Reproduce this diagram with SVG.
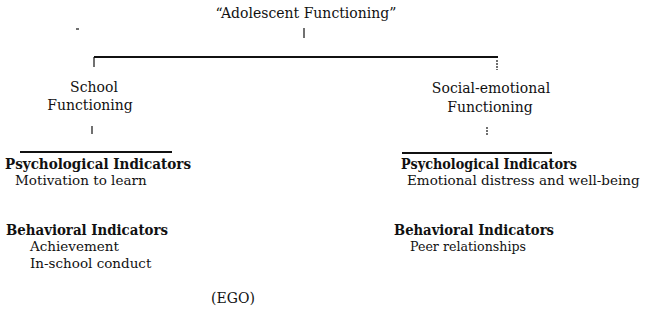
<svg xmlns="http://www.w3.org/2000/svg" width="646" height="328" viewBox="0 0 646 328">
  <style>
    text { font-family: "DejaVu Serif", "Liberation Serif", serif; font-size: 14px; fill: #111; }
    .c { text-anchor: middle; }
    .b { font-weight: bold; }
    .d { font-size: 13.5px; }
    .ln { stroke: #111; fill: none; }
    .thick { stroke-width: 2; }
    .thin { stroke-width: 1.2; }
  </style>
  <rect width="646" height="328" fill="#fff"/>

  <!-- tree connectors -->
  <g id="connectors">
    <line class="ln thin" x1="304" y1="28" x2="304" y2="38"/>
    <line class="ln thick" x1="94" y1="57" x2="498" y2="57"/>
    <line class="ln thin" x1="94" y1="57" x2="94" y2="67"/>
    <line class="ln thin" x1="497" y1="60" x2="497" y2="70" stroke-dasharray="2 1"/>
    <line class="ln thin" x1="92" y1="126" x2="92" y2="134"/>
    <line class="ln thin" x1="487" y1="127" x2="487" y2="136" stroke-dasharray="2 1"/>
    <line class="ln thick" x1="20" y1="152" x2="172" y2="152"/>
    <line class="ln thick" x1="402" y1="153" x2="552" y2="153"/>
    <line class="ln thin" x1="76" y1="29" x2="79" y2="29"/>
  </g>

  <g id="root">
    <text class="c" x="306" y="18">“Adolescent Functioning”</text>
  </g>

  <g id="school">
    <text class="c" x="94" y="92">School</text>
    <text class="c" x="90" y="110">Functioning</text>
  </g>

  <g id="social-emotional">
    <text class="c" x="491" y="93">Social-emotional</text>
    <text class="c" x="490" y="112">Functioning</text>
  </g>

  <g id="school-indicators">
    <text class="b" x="5" y="169" textLength="186" lengthAdjust="spacingAndGlyphs">Psychological Indicators</text>
    <text class="d" x="15" y="185">Motivation to learn</text>
    <text class="b" x="6" y="235" textLength="162" lengthAdjust="spacingAndGlyphs">Behavioral Indicators</text>
    <text class="d" x="30" y="251">Achievement</text>
    <text class="d" x="30" y="268">In-school conduct</text>
  </g>

  <g id="social-indicators">
    <text class="b" x="401" y="169" textLength="176" lengthAdjust="spacingAndGlyphs">Psychological Indicators</text>
    <text class="d" x="407" y="185">Emotional distress and well-being</text>
    <text class="b" x="394" y="235" textLength="160" lengthAdjust="spacingAndGlyphs">Behavioral Indicators</text>
    <text class="d" x="410" y="251" textLength="116" lengthAdjust="spacingAndGlyphs">Peer relationships</text>
  </g>

  <g id="ego">
    <text class="c" x="233" y="303" font-size="13">(EGO)</text>
  </g>
</svg>
